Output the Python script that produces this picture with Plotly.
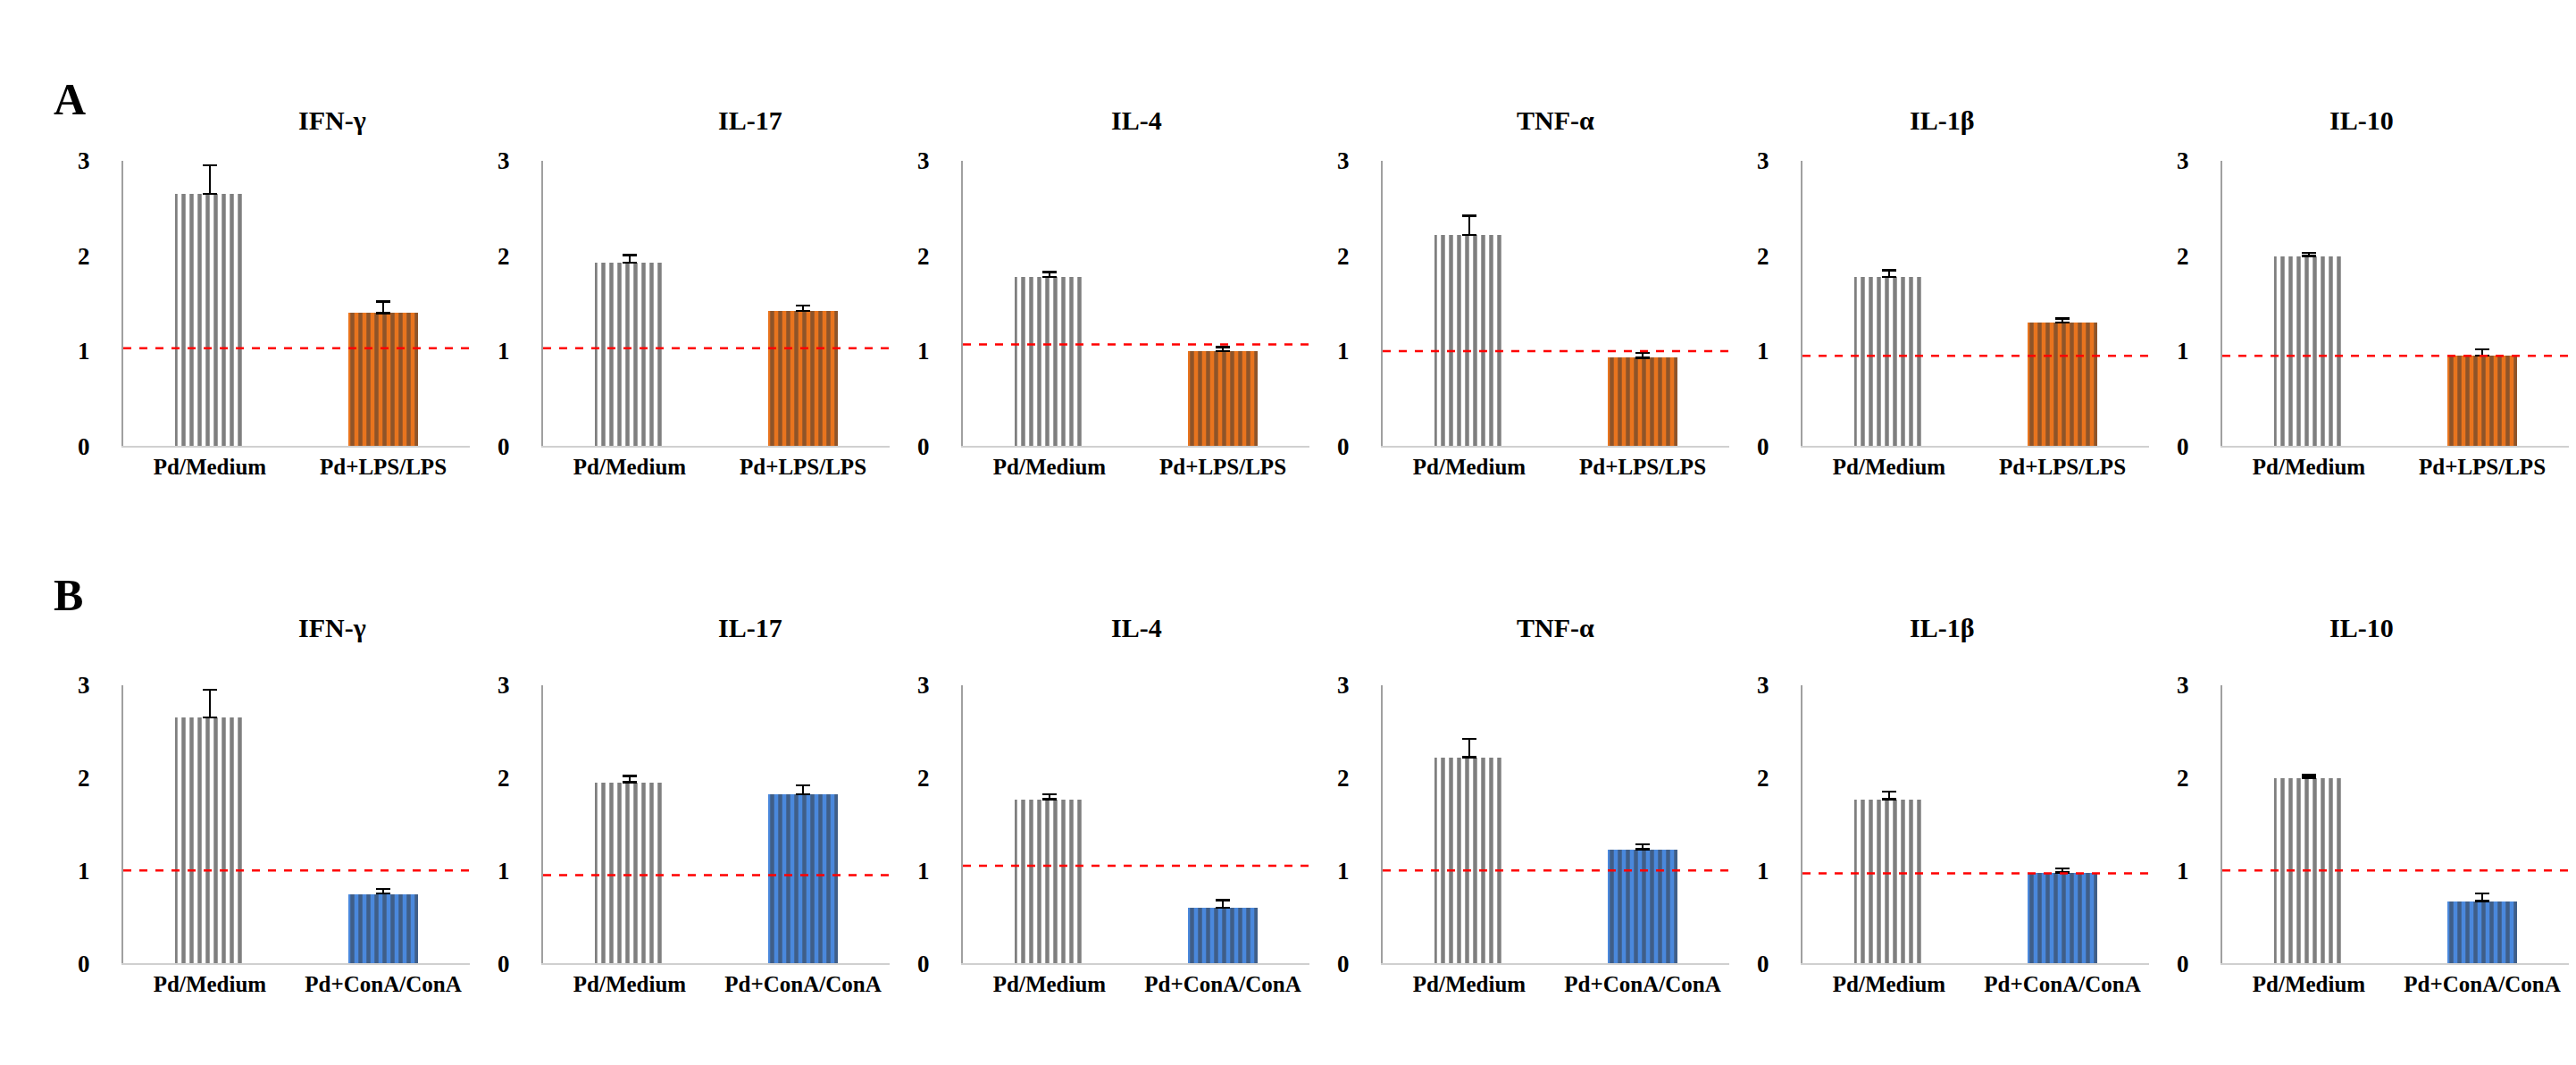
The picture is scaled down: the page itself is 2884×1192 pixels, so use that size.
import plotly.graph_objects as go

# Data
cytokines = ['IFN-γ', 'IL-17', 'IL-4', 'TNF-α', 'IL-1β', 'IL-10']
cats_a = ['Pd/Medium', 'Pd+LPS/LPS']
cats_b = ['Pd/Medium', 'Pd+ConA/ConA']

a_medium = [2.65, 1.93, 1.78, 2.22, 1.78, 2.00]
a_medium_err = [0.30, 0.08, 0.05, 0.20, 0.07, 0.03]
a_lps = [1.40, 1.42, 1.00, 0.93, 1.30, 0.95]
a_lps_err = [0.12, 0.06, 0.04, 0.05, 0.04, 0.07]
a_ref = [1.03, 1.03, 1.07, 1.00, 0.95, 0.95]

b_medium = [2.65, 1.95, 1.77, 2.22, 1.77, 2.00]
b_medium_err = [0.30, 0.07, 0.05, 0.20, 0.08, 0.03]
b_cona = [0.75, 1.82, 0.60, 1.23, 0.98, 0.67]
b_cona_err = [0.05, 0.10, 0.08, 0.05, 0.04, 0.08]
b_ref = [1.00, 0.95, 1.05, 1.00, 0.97, 1.00]

W, H = 2884, 1192
FONT = 'Liberation Serif'

fig = go.Figure()

rows = [
    (cats_a, a_medium, a_medium_err, a_lps, a_lps_err, a_ref, '#e8741e', (0.590, 0.865)),
    (cats_b, b_medium, b_medium_err, b_cona, b_cona_err, b_ref, '#4a88dc', (0.092, 0.360)),
]

n = 0
for r, (cats, med, med_err, trt, trt_err, ref, col, ydom) in enumerate(rows):
    for i, name in enumerate(cytokines):
        n += 1
        xa = 'x' if n == 1 else f'x{n}'
        ya = 'y' if n == 1 else f'y{n}'
        x0 = (130 + 470 * i) / W
        x1 = (518 + 470 * i) / W
        for j, (val, err, bg, fg) in enumerate([(med[i], med_err[i], 'white', 'black'),
                                                 (trt[i], trt_err[i], col, '#333333')]):
            fig.add_trace(go.Bar(
                x=[j], y=[val], width=0.4, xaxis=xa, yaxis=ya, showlegend=False,
                marker=dict(color=bg, line=dict(width=0),
                            pattern=dict(shape='|', fgcolor=fg, bgcolor=bg, size=9, solidity=0.5)),
                error_y=dict(type='data', array=[err], arrayminus=[0], symmetric=False,
                             color='black', thickness=2.5, width=8),
            ))
        fig.add_trace(go.Scatter(
            x=[-0.5, 1.5], y=[ref[i], ref[i]], mode='lines', xaxis=xa, yaxis=ya, showlegend=False,
            line=dict(color='red', dash='dash', width=2.5),
        ))
        xkey = 'xaxis' if n == 1 else f'xaxis{n}'
        ykey = 'yaxis' if n == 1 else f'yaxis{n}'
        fig.update_layout(**{
            xkey: dict(domain=[x0, x1], anchor=ya, range=[-0.5, 1.5], tickvals=[0, 1],
                       ticktext=[f'<b>{c}</b>' for c in cats],
                       showline=True, linecolor='#d0d0d0', linewidth=2, showgrid=False, zeroline=False,
                       ticks='', tickfont=dict(family=FONT, size=25, color='black')),
            ykey: dict(domain=list(ydom), anchor=xa, range=[0, 3], tickvals=[0, 1, 2, 3],
                       ticktext=['<b>0</b>', '<b>1</b>', '<b>2</b>', '<b>3</b>'],
                       showline=True, linecolor='#a0a0a0', linewidth=2, showgrid=False, zeroline=False,
                       ticks='', ticklabelstandoff=30, tickfont=dict(family=FONT, size=27, color='black')),
        })
        fig.add_annotation(x=(x0 + x1) / 2, y=ydom[1] + 0.055, xref='paper', yref='paper',
                           text=f'<b>{name}</b>', showarrow=False,
                           font=dict(family=FONT, size=30, color='black'))

fig.add_annotation(x=50 / W, y=1 - 60 / H, xref='paper', yref='paper', text='<b>A</b>',
                   showarrow=False, font=dict(family=FONT, size=50, color='black'))
fig.add_annotation(x=50 / W, y=1 - 660 / H, xref='paper', yref='paper', text='<b>B</b>',
                   showarrow=False, font=dict(family=FONT, size=50, color='black'))

fig.update_layout(width=W, height=H, margin=dict(l=0, r=0, t=0, b=0),
                  plot_bgcolor='white', paper_bgcolor='white', bargap=0)

fig.write_html('out.html')
